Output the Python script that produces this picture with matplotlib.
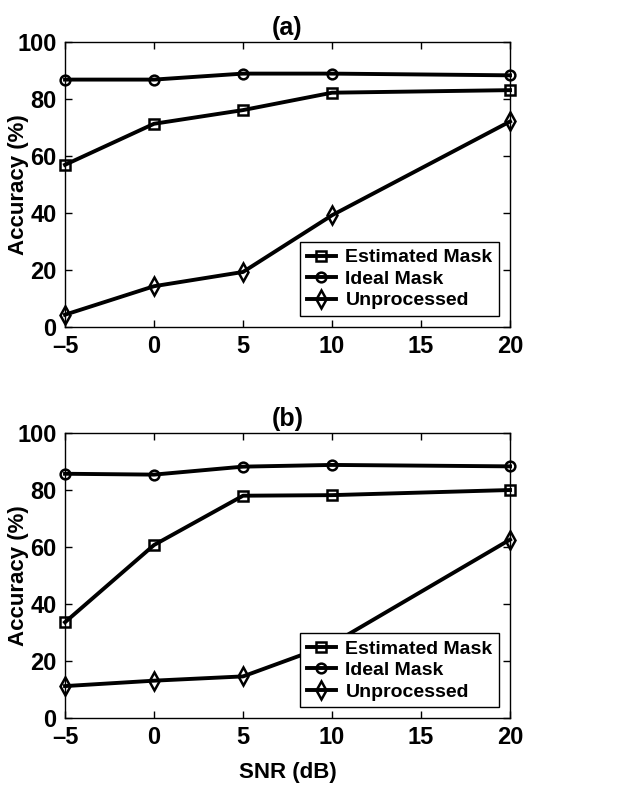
import matplotlib
matplotlib.use('Agg')
import matplotlib.pyplot as plt

plt.rcParams['font.family'] = ['Liberation Sans', 'DejaVu Sans']
plt.rcParams['font.weight'] = 'bold'

snr = [-5, 0, 5, 10, 20]
xticks = [-5, 0, 5, 10, 15, 20]
yticks = [0, 20, 40, 60, 80, 100]

# panel (a)
est_a = [56.9, 71.3, 76.1, 82.2, 83.1]
ideal_a = [86.8, 86.8, 88.9, 88.9, 88.3]
unproc_a = [4.3, 14.3, 19.3, 39.2, 72.1]

# panel (b)
est_b = [33.6, 60.7, 78.0, 78.2, 80.0]
ideal_b = [85.7, 85.4, 88.2, 88.8, 88.3]
unproc_b = [11.2, 13.1, 14.6, 26.0, 62.6]

labels = ['Estimated Mask', 'Ideal Mask', 'Unprocessed']
markers = ['s', 'o', 'd']

fig = plt.figure(figsize=(6.21, 7.86), dpi=100)
ax_a = fig.add_axes([0.1047, 0.584, 0.7166, 0.3626])
ax_b = fig.add_axes([0.1047, 0.0865, 0.7166, 0.3626])


def draw(ax, series, title):
    for vals, lab, m in zip(series, labels, markers):
        ax.plot(snr, vals, color='black', lw=2.8, marker=m, markersize=7 if m != 'd' else 9,
                markerfacecolor='none', markeredgewidth=1.8, label=lab, clip_on=False, zorder=3)
    ax.set_xlim(-5, 20)
    ax.set_ylim(0, 100)
    ax.set_xticks(xticks)
    ax.set_yticks(yticks)
    ax.set_xticklabels([str(t).replace('-', '\u2013') for t in xticks])
    ax.tick_params(direction='in', top=True, right=True, length=5, width=1,
                   labelsize=17, pad=6)
    for s in ax.spines.values():
        s.set_linewidth(1)
    ax.set_ylabel('Accuracy (%)', fontsize=16, fontweight='bold', va='center')
    ax.yaxis.set_label_coords(-0.105, 0.5)
    ax.set_title(title, fontsize=18, fontweight='bold', pad=5)
    leg = ax.legend(loc='lower right', fontsize=14, frameon=True, fancybox=False,
                    edgecolor='black', borderaxespad=0.55, handlelength=1.5,
                    borderpad=0.35, labelspacing=0.2, handletextpad=0.5)
    leg.get_frame().set_linewidth(1)
    leg.set_zorder(5)
    leg.get_frame().set_alpha(1)


draw(ax_a, [est_a, ideal_a, unproc_a], '(a)')
draw(ax_b, [est_b, ideal_b, unproc_b], '(b)')
ax_b.set_xlabel('SNR (dB)', fontsize=16, fontweight='bold', labelpad=9)

fig.savefig('out.png', dpi=100)
